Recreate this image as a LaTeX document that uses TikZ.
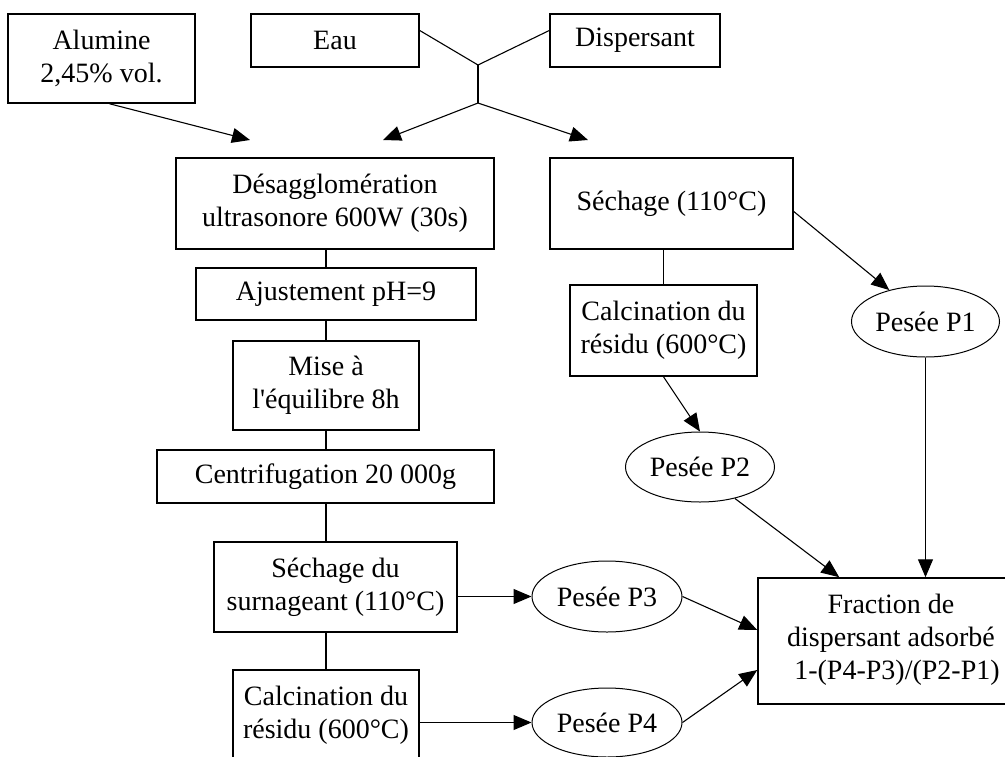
\documentclass[tikz,border=0pt]{standalone}
\usepackage{fontspec}
\setmainfont{Liberation Serif}
\usetikzlibrary{arrows.meta,shapes.geometric,calc}
\begin{document}
\begin{tikzpicture}[x=1pt,y=-1pt,
  txt/.style={font=\fontsize{28}{33}\selectfont},
  box/.style={txt, draw, line width=1.5pt, rectangle, inner sep=0pt, align=center},
  oval/.style={txt, draw, line width=1pt, ellipse, inner sep=0pt},
  conn/.style={line width=1.1pt},
  arr/.style={conn, -{Triangle[length=18pt,width=15pt]}}]
\useasboundingbox (0,0) rectangle (1005,756);
% top inputs
\node[box, minimum width=187pt, minimum height=89pt] (alu) at (101.5,58.5) {Alumine\\2,45\% vol.};
\node[box, minimum width=168pt, minimum height=53pt] (eau) at (335,40.5) {Eau};
\node[box, minimum width=170pt, minimum height=53pt] (disp) at (635,40.5) {Dispersant};
% left column
\node[box, minimum width=318pt, minimum height=91pt] (desag) at (335,203.5) {Désagglomération\\ultrasonore 600W (30s)};
\node[box, minimum width=280pt, minimum height=52pt] (ajust) at (336,294) {Ajustement pH=9};
\node[box, minimum width=186pt, minimum height=89pt] (mise) at (326,385.5) {Mise à\\l\textquotesingle équilibre 8h};
\node[box, minimum width=337pt, minimum height=53pt] (centri) at (325.5,476.5) {Centrifugation 20 000g};
\node[box, minimum width=243pt, minimum height=90pt] (sechs) at (335.5,587) {Séchage du\\surnageant (110°C)};
\node[box, minimum width=186pt, minimum height=90pt] (calcl) at (326,715) {Calcination du\\résidu (600°C)};
% right column
\node[box, minimum width=243pt, minimum height=91pt] (sech) at (671.5,203.5) {Séchage (110°C)};
\node[box, minimum width=187pt, minimum height=91pt] (calcr) at (663.5,330.5) {Calcination du\\résidu (600°C)};
\node[oval, minimum width=148pt, minimum height=71pt] (p1) at (925.5,321.5) {\makebox[0pt]{Pesée P1}};
\node[oval, minimum width=149pt, minimum height=70pt] (p2) at (700,467) {\makebox[0pt]{Pesée P2}};
\node[oval, minimum width=150pt, minimum height=71pt] (p3) at (607,596.5) {\makebox[0pt]{Pesée P3}};
\node[oval, minimum width=150pt, minimum height=69pt] (p4) at (607,722.5) {\makebox[0pt]{Pesée P4}};
\node[box, minimum width=300pt, minimum height=126pt] (frac) at (908,641) {};
\node[txt, align=center, inner sep=0pt] (fractxt) at (891,640) {Fraction de\\dispersant adsorbé\\\hspace*{12pt}1-(P4-P3)/(P2-P1)};
% junction coordinates
\coordinate (j1) at (478,65);
\coordinate (j2) at (478,103);
\coordinate (ea) at (250,140);
\coordinate (el) at (383,140);
\coordinate (er) at (588,140);
% connectors top
\draw[arr] ([xshift=8pt]alu.south) -- (ea);
\draw[conn] ([yshift=10pt]eau.east) -- (j1);
\draw[conn] ([yshift=10pt]disp.west) -- (j1);
\draw[conn] (j1) -- (j2);
\draw[arr] (j2) -- (el);
\draw[arr] (j2) -- (er);
% left chain
\draw[conn] (desag.south -| mise.center) -- (ajust.north -| mise.center);
\draw[conn] (ajust.south -| mise.center) -- (mise.north);
\draw[conn] (mise.south) -- (centri.north -| mise.center);
\draw[conn] (centri.south -| mise.center) -- (sechs.north -| mise.center);
\draw[conn] (sechs.south -| mise.center) -- (calcl.north);
\draw[arr] (sechs.east |- p3.west) -- (p3.west);
\draw[arr] (calcl.east |- p4.west) -- (p4.west);
% right chain
\draw[conn] (sech.south -| calcr.north) -- (calcr.north);
\draw[arr] ([yshift=-8pt]sech.east) -- (p1.139);
\draw[arr] (calcr.south) -- (p2.north);
\draw[arr] (p1.south) -- (p1.south |- frac.north);
\draw[arr] (p2.-42) -- ($(frac.north west)+(82,0)$);
\draw[arr] (p3.east) -- ([yshift=11pt]frac.west);
\draw[arr] (p4.east) -- ([yshift=-29pt]frac.west);
\end{tikzpicture}
\end{document}
